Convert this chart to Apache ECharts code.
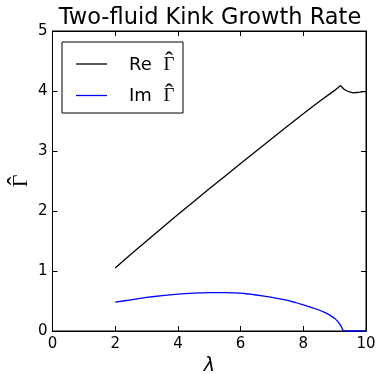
<!DOCTYPE html>
<html>
<head>
<meta charset="utf-8">
<script src="https://cdn.jsdelivr.net/npm/echarts@6/dist/echarts.min.js"></script>
<style>html,body{margin:0;padding:0;background:#fff;}#c{width:378px;height:374px;}</style>
</head>
<body>
<div id="c"></div>
<script>
const titleText = 'Two-fluid Kink Growth Rate';
const xTicks = [0, 2, 4, 6, 8, 10];
const yTicks = [0, 1, 2, 3, 4, 5];
const reX = [2, 2.5, 3, 3.5, 4, 4.5, 5, 5.5, 6, 6.5, 7, 7.5, 8, 8.5, 9, 9.19, 9.3, 9.4, 9.5, 9.6, 9.7, 9.8, 9.9, 10];
const reY = [1.05, 1.28, 1.50, 1.72, 1.94, 2.155, 2.37, 2.58, 2.79, 3.00, 3.21, 3.415, 3.62, 3.82, 4.01, 4.09, 4.03, 4.0, 3.98, 3.97, 3.975, 3.98, 3.99, 3.99];
const imX = [2, 2.25, 2.5, 2.75, 3, 3.25, 3.5, 3.75, 4, 4.25, 4.5, 4.75, 5, 5.25, 5.5, 5.75, 6, 6.25, 6.5, 6.75, 7, 7.25, 7.5, 7.75, 8, 8.25, 8.5, 8.7, 8.85, 9, 9.1, 9.2, 9.28, 9.5, 10];
const imY = [0.48, 0.50, 0.52, 0.54, 0.56, 0.575, 0.59, 0.603, 0.615, 0.623, 0.63, 0.636, 0.64, 0.641, 0.64, 0.636, 0.63, 0.617, 0.60, 0.582, 0.56, 0.537, 0.51, 0.475, 0.435, 0.395, 0.35, 0.305, 0.265, 0.21, 0.16, 0.085, 0.0, 0.0, 0.0];

const chart = echarts.init(document.getElementById('c'), null, {renderer: 'canvas'});
const font = 'DejaVu Sans';
const serif = 'Liberation Serif';
const pair = (xs, ys) => xs.map((x, i) => [x, ys[i]]);
const axisCommon = {
  type: 'value',
  axisLine: {show: true, onZero: false, lineStyle: {color: '#000', width: 1}},
  axisTick: {show: true, inside: true, length: 5, lineStyle: {color: '#000', width: 1}},
  splitLine: {show: false}
};
chart.setOption({
  animation: false,
  backgroundColor: '#fff',
  title: {
    text: titleText, left: 205, top: 2, textAlign: 'center',
    textStyle: {fontFamily: font, fontSize: 22.5, fontWeight: 'normal', color: '#000'}
  },
  grid: {left: 52.5, right: 12, top: 31, bottom: 43, containLabel: false, outerBoundsMode: 'none',
    show: true, borderColor: '#000', borderWidth: 1, backgroundColor: 'transparent'},
  legend: {
    orient: 'vertical', left: 62, top: 42,
    padding: [8, 8, 7, 14], itemGap: 7,
    borderColor: '#000', borderWidth: 1, backgroundColor: '#fff',
    icon: 'rect', itemWidth: 31, itemHeight: 1.3,
    formatter: n => '{s|}{p|}{h|\u02c6}\n{s|}{t|' + n + ' }{g|\u0393}',
    textStyle: {
      color: '#000',
      rich: {
        s: {width: 17, lineHeight: 2},
        p: {width: 34, lineHeight: 2},
        h: {fontFamily: serif, fontSize: 24, color: '#000', lineHeight: 2, width: 12, align: 'center'},
        t: {fontFamily: font, fontSize: 18, color: '#000', lineHeight: 4, width: 34},
        g: {fontFamily: serif, fontSize: 19, color: '#000', lineHeight: 4, width: 12, align: 'center'}
      }
    },
    data: ['Re', 'Im']
  },
  xAxis: [
    Object.assign({}, axisCommon, {
      min: 0, max: 10, interval: 2, position: 'bottom',
      name: '\u03bb', nameLocation: 'middle', nameGap: 25,
      nameTextStyle: {fontFamily: font, fontSize: 19, fontStyle: 'italic', color: '#000'},
      axisLabel: {margin: 6, fontFamily: font, fontSize: 15, color: '#000',
        formatter: v => xTicks.includes(v) ? String(v) : ''}
    }),
    Object.assign({}, axisCommon, {
      min: 0, max: 10, interval: 2, position: 'top', axisLabel: {show: false}
    })
  ],
  yAxis: [
    Object.assign({}, axisCommon, {
      min: 0, max: 5, interval: 1, position: 'left',
      name: '{h|\u02c6}\n{g|\u0393}', nameLocation: 'middle', nameGap: 29, nameRotate: 90,
      nameMoveOverlap: false,
      nameTextStyle: {color: '#000', align: 'center',
        rich: {
          h: {fontFamily: serif, fontSize: 26, lineHeight: 2, color: '#000', align: 'center'},
          g: {fontFamily: serif, fontSize: 22, lineHeight: 4, color: '#000', align: 'center'}
        }},
      axisLabel: {margin: 5, fontFamily: font, fontSize: 15, color: '#000',
        formatter: v => yTicks.includes(v) ? String(v) : ''}
    }),
    Object.assign({}, axisCommon, {
      min: 0, max: 5, interval: 1, position: 'right', axisLabel: {show: false}
    })
  ],
  series: [
    {name: 'Re', type: 'line', data: pair(reX, reY), smooth: false, showSymbol: false, symbol: 'none',
      lineStyle: {color: '#000', width: 1.3}, itemStyle: {color: '#000'}, clip: true},
    {name: 'Im', type: 'line', data: pair(imX, imY), smooth: false, showSymbol: false, symbol: 'none',
      lineStyle: {color: '#0000ff', width: 1.3}, itemStyle: {color: '#0000ff'}, clip: true}
  ]
});
</script>
</body>
</html>
